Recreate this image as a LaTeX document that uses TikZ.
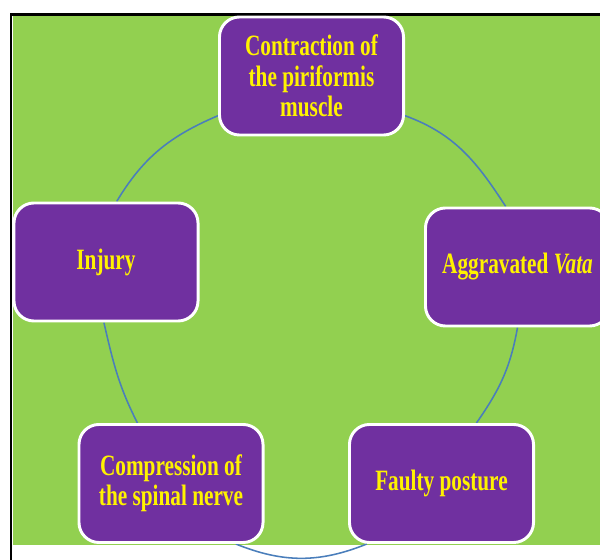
\documentclass[tikz,border=0pt]{standalone}
\usepackage{fontspec}
\setmainfont{Liberation Serif}
\newfontfamily\boxfont{Liberation Serif}[FakeStretch=0.72]
\usetikzlibrary{backgrounds}
\definecolor{leaf}{HTML}{92D050}
\definecolor{plum}{HTML}{7030A0}
\definecolor{ringblue}{HTML}{4A7EBB}

\begin{document}
\begin{tikzpicture}[x=0.025cm,y=0.025cm,
  cause/.style={draw=white,line width=2.1pt,fill=plum,rounded corners=0.5cm,
    minimum width=4.6cm,minimum height=2.95cm,align=center,text=yellow,
    font=\boxfont\bfseries\fontsize{21}{21.5}\selectfont},
  cycline/.style={draw=ringblue,line width=1.1pt}]

\useasboundingbox (0,0) rectangle (600,560);
\clip (0,0) rectangle (600,560);

% the green panel and its frame
\begin{scope}[on background layer]
 \fill[leaf] (12.5,15) rectangle (610,544);
 \draw[line width=1.8pt] (11,-10) -- (11,545.5) -- (610,545.5);
\end{scope}

% the boxes
\node[cause] (piri) at (311.5,484) {Contraction of\\the piriformis\\muscle};
\node[cause] (vata) at (517.5,293) {Aggravated \textit{Vata}};
\node[cause] (post) at (441.5,76.5) {Faulty posture};
\node[cause] (nerve) at (171,76.5) {Compression of\\the spinal nerve};
\node[cause] (inj) at (106,298) {Injury};

% the cycle behind the boxes
\begin{scope}[on background layer]
 \draw[cycline] (piri.337) to[out=-20,in=123] (vata.101);
 \draw[cycline] (vata.270) to[out=-100,in=55] (post.60);
 \draw[cycline] (post.219) to[out=202,in=-22] (nerve.317);
 \draw[cycline] (nerve.119) to[out=117,in=-77] (inj.268);
 \draw[cycline] (inj.80) to[out=59,in=203] (piri.203);
\end{scope}

\end{tikzpicture}
\end{document}
